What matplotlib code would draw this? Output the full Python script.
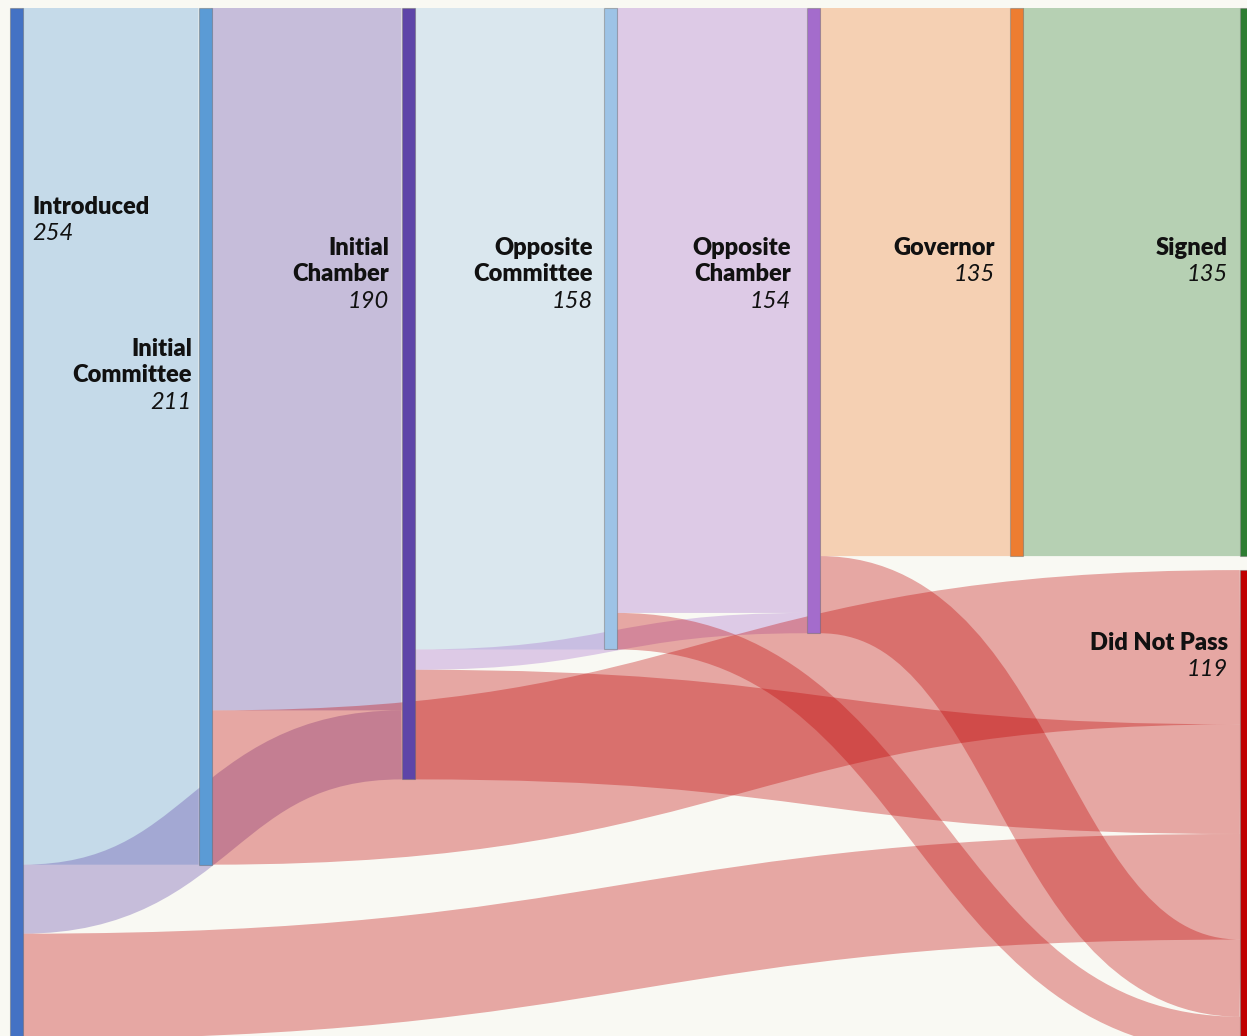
import matplotlib
matplotlib.use("Agg")
import matplotlib.pyplot as plt
from matplotlib.path import Path
from matplotlib.patches import PathPatch, Rectangle

# ---------------- data ----------------
node_names = ["Introduced", "Initial Committee", "Initial Chamber", "Opposite Committee",
              "Opposite Chamber", "Governor", "Signed", "Did Not Pass"]
node_label_lines = [["Introduced"], ["Initial", "Committee"], ["Initial", "Chamber"],
                    ["Opposite", "Committee"], ["Opposite", "Chamber"], ["Governor"],
                    ["Signed"], ["Did Not Pass"]]
node_values = [254, 211, 190, 158, 154, 135, 135, 119]
node_column = [0, 1, 2, 3, 4, 5, 6, 6]
node_colors = ["#4472c4", "#5b9bd5", "#5e45a8", "#9dc3e6", "#a46ccc", "#ed7d31", "#2e7d32", "#c00000"]

link_sources = ["Introduced", "Initial Committee", "Introduced", "Initial Chamber",
                "Opposite Committee", "Initial Chamber", "Opposite Chamber", "Governor",
                "Initial Committee", "Initial Chamber", "Introduced", "Opposite Chamber",
                "Opposite Committee"]
link_targets = ["Initial Committee", "Initial Chamber", "Initial Chamber", "Opposite Committee",
                "Opposite Chamber", "Opposite Chamber", "Governor", "Signed",
                "Did Not Pass", "Did Not Pass", "Did Not Pass", "Did Not Pass",
                "Did Not Pass"]
link_values = [211, 173, 17, 158, 149, 5, 135, 135, 38, 27, 26, 19, 9]

# ---------------- layout (pixels) ----------------
W, H, DPI = 1247, 1036, 100
TOP = 8.0
KY = 4.06            # px per bill
PAD = 14.0           # px between nodes in a column
NODE_W = 13.0
column_x = [9.5, 198.5, 401.5, 604.0, 807.0, 1010.0, 1240.0]
LINK_ALPHA = 0.33
BG = "#f9f9f3"

# label layout: (x anchor px, first baseline px, ha)
label_layout = {
    "Introduced": (32, 214, "left"),
    "Initial Committee": (192, 356, "right"),
    "Initial Chamber": (389, 255, "right"),
    "Opposite Committee": (593, 255, "right"),
    "Opposite Chamber": (791, 255, "right"),
    "Governor": (995, 255, "right"),
    "Signed": (1228, 255, "right"),
    "Did Not Pass": (1228, 650, "right"),
}
LINE_H = 26.4
FONT = ["Lato", "DejaVu Sans"]
FS = 17

fig = plt.figure(figsize=(W / DPI, H / DPI), dpi=DPI, facecolor=BG)
ax = fig.add_axes([0, 0, 1, 1])
ax.set_facecolor(BG)
ax.set_xlim(0, W)
ax.set_ylim((H - TOP) / KY, -TOP / KY)   # y in bills, inverted
ax.axis("off")

idx = {n: i for i, n in enumerate(node_names)}

# node vertical positions (bills)
pad_b = PAD / KY
node_y0 = [0.0] * len(node_names)
col_fill = {}
for i, n in enumerate(node_names):
    c = node_column[i]
    y = col_fill.get(c, None)
    node_y0[i] = 0.0 if y is None else y + pad_b
    col_fill[c] = node_y0[i] + node_values[i]

# link offsets (d3-sankey style: sort by other end y0, then link index)
nl = len(link_values)
src_off = [0.0] * nl
tgt_off = [0.0] * nl
for i, n in enumerate(node_names):
    outs = [k for k in range(nl) if link_sources[k] == n]
    outs.sort(key=lambda k: (node_y0[idx[link_targets[k]]], k))
    y = node_y0[i]
    for k in outs:
        src_off[k] = y
        y += link_values[k]
    ins = [k for k in range(nl) if link_targets[k] == n]
    ins.sort(key=lambda k: (node_y0[idx[link_sources[k]]], k))
    y = node_y0[i]
    for k in ins:
        tgt_off[k] = y
        y += link_values[k]

# draw links as thick stroked cubic curves
for k in range(nl):
    s = idx[link_sources[k]]
    t = idx[link_targets[k]]
    x0 = column_x[node_column[s]] + NODE_W
    x1 = column_x[node_column[t]]
    ys = src_off[k] + link_values[k] / 2
    yt = tgt_off[k] + link_values[k] / 2
    xm = (x0 + x1) / 2
    path = Path([(x0, ys), (xm, ys), (xm, yt), (x1, yt)],
                [Path.MOVETO, Path.CURVE4, Path.CURVE4, Path.CURVE4])
    lw = link_values[k] * KY * 72.0 / DPI
    patch = PathPatch(path, facecolor="none", edgecolor=node_colors[t], alpha=LINK_ALPHA,
                      lw=lw, capstyle="butt", joinstyle="miter", zorder=1)
    ax.add_patch(patch)

# draw nodes
for i, n in enumerate(node_names):
    x = column_x[node_column[i]]
    ax.add_patch(Rectangle((x, node_y0[i]), NODE_W, node_values[i],
                           facecolor=node_colors[i], edgecolor=(0.4, 0.4, 0.4, 0.45),
                           lw=0.8, zorder=3))

# labels
def py_to_data(py):
    return (py - TOP) / KY

for i, n in enumerate(node_names):
    lx, base, ha = label_layout[n]
    lines = node_label_lines[i]
    for j, line in enumerate(lines):
        ax.text(lx, py_to_data(base + j * LINE_H), line, ha=ha, va="baseline",
                fontsize=FS, fontweight="heavy", family=FONT,
                color="#111111", zorder=5)
    ax.text(lx, py_to_data(base + len(lines) * LINE_H), str(node_values[i]), ha=ha,
            va="baseline", fontsize=FS, fontstyle="italic", family=FONT,
            color="#111111", zorder=5)

fig.savefig("out.png", dpi=DPI, facecolor=BG)
